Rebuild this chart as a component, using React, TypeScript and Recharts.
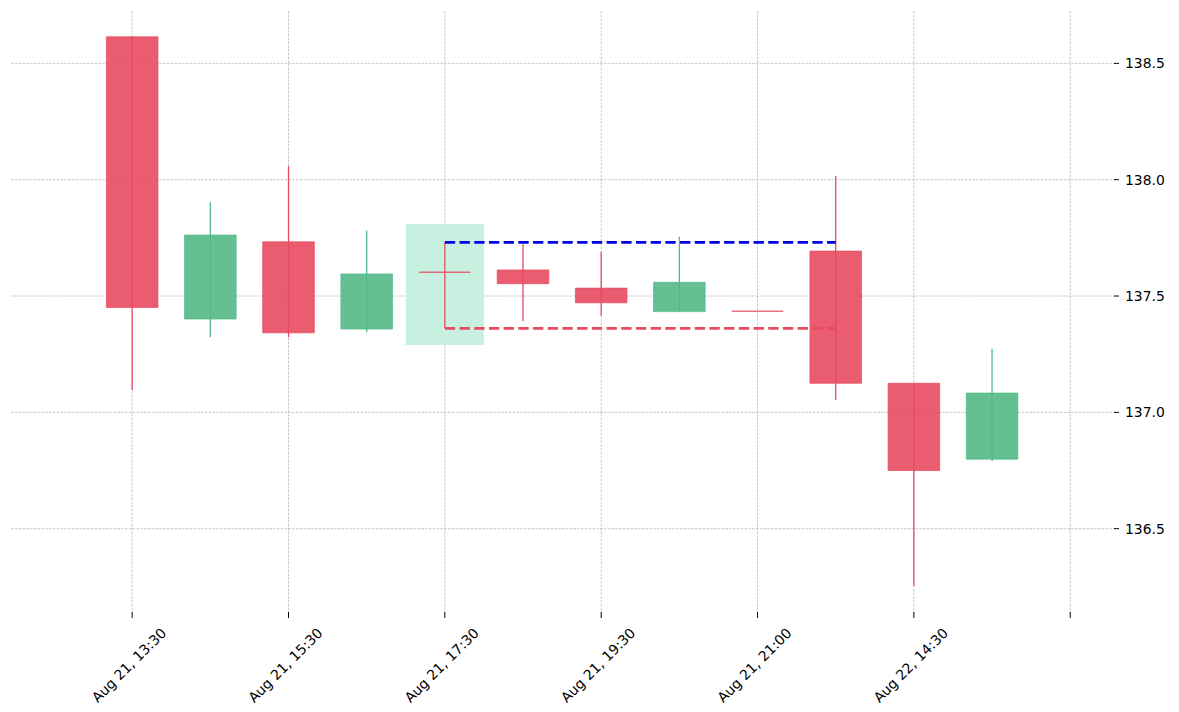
import React from 'react';
import {
  ComposedChart,
  Line,
  XAxis,
  YAxis,
  CartesianGrid,
  ReferenceArea,
  ReferenceLine,
} from 'recharts';

// candle data
const labels = [
  'Aug 21, 13:30',
  'Aug 21, 14:30',
  'Aug 21, 15:30',
  'Aug 21, 16:30',
  'Aug 21, 17:30',
  'Aug 21, 18:30',
  'Aug 21, 19:30',
  'Aug 21, 20:30',
  'Aug 21, 21:00',
  'Aug 22, 13:30',
  'Aug 22, 14:30',
  'Aug 22, 15:30',
];
const opens = [138.614, 137.401, 137.733, 137.358, 137.602, 137.612, 137.534, 137.433, 137.435, 137.693, 137.125, 136.799];
const highs = [138.614, 137.903, 138.059, 137.782, 137.731, 137.723, 137.69, 137.755, 137.435, 138.016, 137.125, 137.273];
const lows = [137.096, 137.323, 137.323, 137.344, 137.361, 137.393, 137.415, 137.433, 137.434, 137.053, 136.254, 136.791];
const closes = [137.451, 137.762, 137.342, 137.595, 137.6, 137.553, 137.471, 137.559, 137.434, 137.125, 136.75, 137.083];

const xTicks = [0, 2, 4, 6, 8, 10, 12];
const yTicks = [136.5, 137, 137.5, 138, 138.5];

// pattern candle, its highlight box and the levels drawn from it
const patternIndex = 4;
const highlightRange = [137.29, 137.81];
const resistance = 137.731;
const support = 137.361;
const levelEnd = 9;

const RED = '#e84a5f';
const GREEN = '#53b987';
const HALF = 0.33;
const FONT = 13.9;

const rows = labels.map((label, i) => ({
  i,
  label,
  open: opens[i],
  high: highs[i],
  low: lows[i],
  close: closes[i],
}));

const XTick = (props: any) => {
  const { x, y, payload } = props;
  const text = labels[payload.value] ?? '';
  const px = x + 35;
  const py = y + 14;
  return (
    <text
      x={px}
      y={py}
      textAnchor="end"
      fontSize={FONT}
      fill="#000"
      fontFamily="DejaVu Sans"
      transform={`rotate(-45, ${px}, ${py})`}
    >
      {text}
    </text>
  );
};

export default function App() {
  return (
    <div
      style={{
        position: 'absolute',
        left: 0,
        top: 0,
        width: 1179,
        height: 712,
        background: '#fff',
        fontFamily: 'DejaVu Sans',
      }}
    >
      <ComposedChart width={1179} height={712} data={rows} margin={{ top: 11, right: 0, left: 11, bottom: 0 }}>
        <CartesianGrid syncWithTicks stroke="#b0b0b0" strokeWidth={0.7} strokeDasharray="2.6 1.2" />
        <XAxis
          dataKey="i"
          type="number"
          domain={[-1.55, 12.56]}
          ticks={xTicks}
          interval={0}
          allowDataOverflow
          axisLine={false}
          tickLine={{ stroke: '#000', strokeWidth: 1 }}
          tickSize={6}
          height={100}
          tick={<XTick />}
        />
        <YAxis
          orientation="right"
          type="number"
          domain={[136.142, 138.725]}
          ticks={yTicks}
          allowDataOverflow
          axisLine={false}
          tickLine={{ stroke: '#000', strokeWidth: 1 }}
          tickSize={5}
          tickMargin={6}
          width={65}
          tick={{ fontSize: FONT, fill: '#000', fontFamily: 'DejaVu Sans' }}
          tickFormatter={(v: number) => v.toFixed(1)}
        />

        <ReferenceArea
          x1={patternIndex - 0.5}
          x2={patternIndex + 0.5}
          y1={highlightRange[0]}
          y2={highlightRange[1]}
          fill="#c7f0e0"
          fillOpacity={1}
          stroke="none"
        />

        {rows.map((r) => {
          const color = r.close >= r.open ? GREEN : RED;
          return (
            <ReferenceLine
              key={`wick-${r.i}`}
              segment={[
                { x: r.i, y: r.low },
                { x: r.i, y: r.high },
              ]}
              stroke={color}
              strokeWidth={1.3}
            />
          );
        })}

        {rows.map((r) => {
          const color = r.close > r.open ? GREEN : RED;
          if (Math.abs(r.close - r.open) < 0.005) {
            return (
              <ReferenceLine
                key={`body-${r.i}`}
                segment={[
                  { x: r.i - HALF, y: r.open },
                  { x: r.i + HALF, y: r.open },
                ]}
                stroke={color}
                strokeOpacity={0.8}
                strokeWidth={1.5}
              />
            );
          }
          return (
            <ReferenceArea
              key={`body-${r.i}`}
              x1={r.i - HALF}
              x2={r.i + HALF}
              y1={Math.min(r.open, r.close)}
              y2={Math.max(r.open, r.close)}
              fill={color}
              fillOpacity={0.9}
              stroke={color}
              strokeOpacity={0.9}
              strokeWidth={0.8}
            />
          );
        })}

        <ReferenceLine
          segment={[
            { x: patternIndex, y: resistance },
            { x: levelEnd, y: resistance },
          ]}
          stroke="#0000ee"
          strokeWidth={2.8}
          strokeDasharray="10.3 4.4"
        />
        <ReferenceLine
          segment={[
            { x: patternIndex, y: support },
            { x: levelEnd, y: support },
          ]}
          stroke={RED}
          strokeWidth={2.8}
          strokeDasharray="10.3 4.4"
        />

        <Line
          dataKey="close"
          stroke="none"
          dot={false}
          activeDot={false}
          isAnimationActive={false}
        />
      </ComposedChart>
    </div>
  );
}
